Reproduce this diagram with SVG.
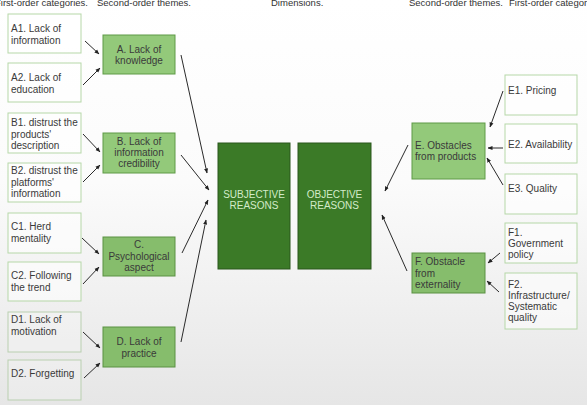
<svg xmlns="http://www.w3.org/2000/svg" width="587" height="405" viewBox="0 0 587 405">
<defs>
<linearGradient id="bg" x1="0" y1="0" x2="0" y2="1">
<stop offset="0" stop-color="#ffffff"/>
<stop offset="0.45" stop-color="#fbfbfb"/>
<stop offset="1" stop-color="#e6e6e6"/>
</linearGradient>
<marker id="ah" viewBox="0 0 10 10" refX="9" refY="5" markerWidth="5" markerHeight="5" orient="auto">
<path d="M0,1 L10,5 L0,9 z" fill="#222"/>
</marker>
<style>
text{font-family:"Liberation Sans",Arial,sans-serif;font-size:10px;fill:#3a3a3a}
.hd{font-size:9.5px;fill:#333}
.f1{fill:#ffffff;fill-opacity:0.55;stroke:#b6d7a8;stroke-width:1}
.f1g{fill:#ffffff;fill-opacity:0.2;stroke:#b9cfb0;stroke-width:1}
.s2{fill:#93c97a;stroke:#5e9a46;stroke-width:1}
.s2b{fill:#86bd6c;stroke:#5a9142;stroke-width:1}
.big{fill:#3b7a27;stroke:#2a571c;stroke-width:1}
.bt{fill:#d3ebc9;text-anchor:middle}
.c{text-anchor:middle}
.cn line{stroke:#2a2a2a;stroke-width:1;marker-end:url(#ah)}
</style>
</defs>
<rect x="0" y="0" width="587" height="405" fill="url(#bg)"/>

<g id="headers">
<text class="hd" x="-5" y="6">First-order categories.</text>
<text class="hd" x="97" y="6">Second-order themes.</text>
<text class="hd" x="271" y="6">Dimensions.</text>
<text class="hd" x="409" y="6">Second-order themes.</text>
<text class="hd" x="509" y="6">First-order categories.</text>
</g>

<g id="A1"><rect class="f1" x="8" y="14" width="73" height="39"/><text x="11" y="32">A1. Lack of</text><text x="11" y="44">information</text></g>
<g id="A2"><rect class="f1" x="8" y="63" width="73" height="39"/><text x="11" y="81">A2. Lack of</text><text x="11" y="92.5">education</text></g>
<g id="B1"><rect class="f1" x="8" y="113" width="73" height="40"/><text x="11" y="126">B1. distrust the</text><text x="11" y="137.5">products'</text><text x="11" y="149">description</text></g>
<g id="B2"><rect class="f1" x="8" y="163" width="73" height="39"/><text x="11" y="174">B2. distrust the</text><text x="11" y="185.5">platforms'</text><text x="11" y="197">information</text></g>
<g id="C1"><rect class="f1" x="8" y="213" width="73" height="40"/><text x="11" y="230">C1. Herd</text><text x="11" y="241.5">mentality</text></g>
<g id="C2"><rect class="f1" x="8" y="262" width="73" height="39"/><text x="11" y="278.5">C2. Following</text><text x="11" y="290.5">the trend</text></g>
<g id="D1"><rect class="f1g" x="8" y="312" width="73" height="40"/><text x="11" y="323">D1. Lack of</text><text x="11" y="334.5">motivation</text></g>
<g id="D2"><rect class="f1g" x="8" y="360" width="73" height="40"/><text x="11" y="377">D2. Forgetting</text></g>

<g id="A"><rect class="s2" x="103" y="35" width="72" height="39"/><text class="c" x="139" y="52.5">A. Lack of</text><text class="c" x="139" y="64">knowledge</text></g>
<g id="B"><rect class="s2" x="103" y="133" width="72" height="40"/><text class="c" x="139" y="145">B. Lack of</text><text class="c" x="139" y="156">information</text><text class="c" x="139" y="167">credibility</text></g>
<g id="C"><rect class="s2b" x="103" y="237" width="72" height="39"/><text class="c" x="139" y="248">C.</text><text class="c" x="139" y="259.5">Psychological</text><text class="c" x="139" y="271">aspect</text></g>
<g id="D"><rect class="s2b" x="103" y="327" width="72" height="40"/><text class="c" x="139" y="345">D. Lack of</text><text class="c" x="139" y="356.5">practice</text></g>

<g id="SUBJ"><rect class="big" x="218" y="143" width="72" height="126"/><text class="bt" x="254" y="197.5">SUBJECTIVE</text><text class="bt" x="254" y="209">REASONS</text></g>
<g id="OBJ"><rect class="big" x="298" y="143" width="73" height="126"/><text class="bt" x="334.5" y="197.5">OBJECTIVE</text><text class="bt" x="334.5" y="209">REASONS</text></g>

<g id="E"><rect class="s2" x="412" y="123" width="73" height="56"/><text x="415" y="148.5">E. Obstacles</text><text x="415" y="160">from products</text></g>
<g id="F"><rect class="s2b" x="412" y="253" width="73" height="40"/><text x="415" y="265">F. Obstacle</text><text x="415" y="276.5">from</text><text x="415" y="288">externality</text></g>

<g id="E1"><rect class="f1" x="505" y="75" width="72" height="40"/><text x="508" y="94">E1. Pricing</text></g>
<g id="E2"><rect class="f1" x="505" y="124" width="72" height="39"/><text x="508" y="148">E2. Availability</text></g>
<g id="E3"><rect class="f1" x="505" y="174" width="72" height="40"/><text x="508" y="192">E3. Quality</text></g>
<g id="F1"><rect class="f1" x="505" y="223" width="72" height="40"/><text x="508" y="236">F1.</text><text x="508" y="247">Government</text><text x="508" y="258">policy</text></g>
<g id="F2"><rect class="f1" x="505" y="273" width="72" height="56"/><text x="508" y="287.5">F2.</text><text x="508" y="298.5">Infrastructure/</text><text x="508" y="309.5">Systematic</text><text x="508" y="321">quality</text></g>

<g id="connectors" class="cn">
<line x1="85" y1="41" x2="99" y2="54"/>
<line x1="83" y1="85" x2="100" y2="68"/>
<line x1="83" y1="134" x2="100" y2="152"/>
<line x1="83" y1="182" x2="100" y2="165"/>
<line x1="82" y1="238" x2="99" y2="254"/>
<line x1="83" y1="284" x2="99" y2="267"/>
<line x1="83" y1="332" x2="100" y2="348"/>
<line x1="84" y1="378" x2="100" y2="363"/>
<line x1="181" y1="55" x2="207" y2="173"/>
<line x1="181" y1="155" x2="209" y2="190"/>
<line x1="182" y1="253" x2="208" y2="200"/>
<line x1="181" y1="342" x2="206" y2="220"/>
<line x1="408" y1="145" x2="385" y2="191"/>
<line x1="407" y1="271" x2="382" y2="215"/>
<line x1="503" y1="91" x2="490" y2="127"/>
<line x1="503" y1="148" x2="488" y2="148"/>
<line x1="503" y1="185" x2="487" y2="158"/>
<line x1="500" y1="253" x2="488" y2="263"/>
<line x1="499" y1="292" x2="487" y2="281"/>
</g>
</svg>
